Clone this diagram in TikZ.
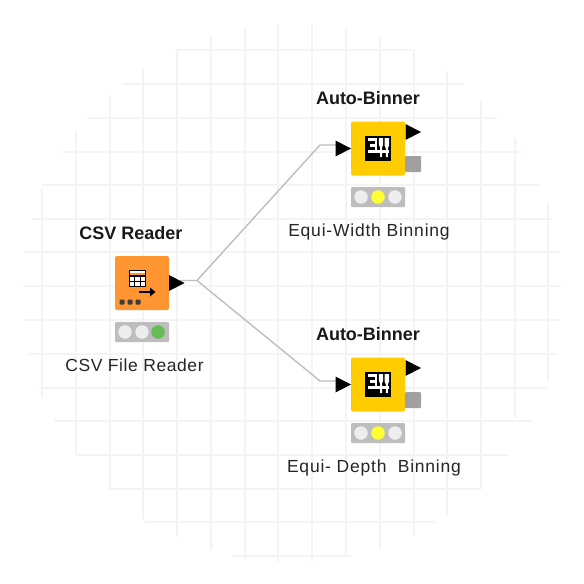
\documentclass[tikz,border=0pt]{standalone}
\usepackage{fontspec}
\setmainfont{Liberation Sans}
\definecolor{gridc}{HTML}{F4F4F4}
\definecolor{wirec}{HTML}{BEBEBE}
\definecolor{csvorange}{HTML}{FF9632}
\definecolor{binyellow}{HTML}{FFCC00}
\definecolor{statusgrey}{HTML}{BDBDBD}
\definecolor{lightoff}{HTML}{EDEDED}
\definecolor{lightgreen}{HTML}{66BB55}
\definecolor{lightyellow}{HTML}{FFFF33}
\definecolor{flowport}{HTML}{A0A0A0}
\definecolor{dotc}{HTML}{3C3C3C}
\tikzset{
  gridline/.style={draw=gridc,line width=1.3pt},
  wire/.style={draw=wirec,line width=1.4pt,line join=round},
  nodebox/.style={rectangle,rounded corners=2pt,minimum width=54pt,minimum height=54pt,inner sep=0pt,outer sep=0pt},
  statusbox/.style={rectangle,rounded corners=1pt,fill=statusgrey,minimum width=54pt,minimum height=20pt,inner sep=0pt,outer sep=0pt},
  lamp/.style={circle,minimum size=13.5pt,inner sep=0pt,outer sep=0pt},
  flowbox/.style={rectangle,rounded corners=1pt,fill=flowport,minimum width=16pt,minimum height=16pt,inner sep=0pt,outer sep=0pt},
  titletext/.style={inner sep=0pt,anchor=base,font=\fontsize{18}{20}\selectfont\bfseries,text=black!90},
  captext/.style={inner sep=0pt,anchor=base,font=\fontsize{17.5}{20}\selectfont,text=black!85},
  porttip/.style={fill=black}
}
\newcommand{\porttri}[1]{\fill[porttip] ($(#1)+(-15.5,-8)$) -- ($(#1)+(0,0)$) -- ($(#1)+(-15.5,8)$) -- cycle;}
\newcommand{\binicon}[2]{%
  \begin{scope}[shift={(#1,#2)}]
    \fill[black] (-13,-13) rectangle (13,12.5);
    \fill[white] (-10.5,-10.5) rectangle (-3,-7.5);
    \fill[white] (-8,-4.5) rectangle (-3,-1.5);
    \fill[white] (-10.5,1.5) rectangle (-3,4.5);
    \fill[white] (-3.5,-10.5) rectangle (-1.2,4.5);
    \fill[white] (0.8,-10.5) -- (5.2,-10.5) -- (5.2,-4) -- (4,-1) -- (4,8.5) -- (2,8.5) -- (2,-1) -- (0.8,-4) -- cycle;
    \fill[white] (-1.2,1.5) rectangle (10.8,4);
    \fill[white] (6.6,-10.5) -- (11,-10.5) -- (11,-3) -- (9.8,0) -- (9.8,8.5) -- (7.8,8.5) -- (7.8,0) -- (6.6,-3) -- cycle;
  \end{scope}}
\usetikzlibrary{calc}
\begin{document}
\begin{tikzpicture}[x=1pt,y=-1pt]
\useasboundingbox (0,0) rectangle (584,584);
\fill[white] (0,0) rectangle (584,584);
% grid: x / top / bottom
\foreach \gx/\gt/\gb in {42/188/398,76/130/455,110/95/490,143/68/519,177/50/537,211/36/550,245/28/559,278/24/562,312/24/562,346/28/555,380/37/549,414/50/535,447/71/515,481/100/489,515/138/418,548/203/382}
  \draw[gridline] (\gx,\gt) -- (\gx,\gb);
% grid: y / left / right
\foreach \gy/\gl/\gr in {50/175/412,84/122/463,118/87/497,152/62/522,185/42/540,219/32/552,252/25/559,286/23/561,320/24/560,354/29/556,388/39/547,421/54/532,455/76/509,489/108/481,522/145/435,556/233/352}
  \draw[gridline] (\gl,\gy) -- (\gr,\gy);

% CSV Reader
\node[nodebox,fill=csvorange] (csv) at (142,283) {};
\node[titletext] (csvtitle) at (131,239) {CSV Reader};
\node[captext] (csvcap) at (134.5,371) {\addfontfeature{LetterSpace=3.3}CSV File Reader};
\node[statusbox] (csvstatus) at (142,332) {};
\node[lamp,fill=lightoff] (csvl1) at (125,332) {};
\node[lamp,fill=lightoff] (csvl2) at (142,332) {};
\node[lamp,fill=lightgreen] (csvl3) at (158,332) {};
\draw[black,line width=1.3pt,fill=white] (129.5,270.5) rectangle (145.5,286.5);
\fill[csvorange] (130.2,272.6) rectangle (144.8,275.2);
\draw[black,line width=1.1pt] (129.5,276) -- (145.5,276) (129.5,281.3) -- (145.5,281.3) (134.8,276) -- (134.8,286.5) (140.2,276) -- (140.2,286.5);
\draw[black,line width=1.8pt] (139,292) -- (152,292);
\fill[black] (150,287.5) -- (155.5,292) -- (150,296.5) -- cycle;
\fill[dotc,rounded corners=.8pt] (119.5,299.5) rectangle +(5,5);
\fill[dotc,rounded corners=.8pt] (127.5,299.5) rectangle +(5,5);
\fill[dotc,rounded corners=.8pt] (135.5,299.5) rectangle +(5,5);

% Top binner
\node[nodebox,fill=binyellow] (bina) at (378,148.5) {};
\node[titletext] (binatitle) at (368,104.5) {Auto-Binner};
\node[captext] (binacap) at (369,236.5) {\addfontfeature{LetterSpace=4.5}Equi-Width Binning};
\node[statusbox] (binastatus) at (378,197) {};
\node[lamp,fill=lightoff] (binal1) at (361,197) {};
\node[lamp,fill=lightyellow] (binal2) at (378,197) {};
\node[lamp,fill=lightoff] (binal3) at (395,197) {};
\node[flowbox] (binaflow) at (413,164) {};
\binicon{378}{148.5}

% Bottom binner
\node[nodebox,fill=binyellow] (binb) at (378,384.5) {};
\node[titletext] (binbtitle) at (368,340.5) {Auto-Binner};
\node[captext] (binbcap) at (374,472.5) {\addfontfeature{LetterSpace=4.5}Equi- Depth\ \ Binning};
\node[statusbox] (binbstatus) at (378,433) {};
\node[lamp,fill=lightoff] (binbl1) at (361,433) {};
\node[lamp,fill=lightyellow] (binbl2) at (378,433) {};
\node[lamp,fill=lightoff] (binbl3) at (395,433) {};
\node[flowbox] (binbflow) at (413,400) {};
\binicon{378}{384.5}

% connectors
\coordinate (csvout) at (184.5,283);
\coordinate (csvwire) at (180,280.5);
\coordinate (fork) at (197,280.5);
\coordinate (bendA) at (320,145);
\coordinate (bendB) at (320,381);
\coordinate (inA) at (351,148.5);
\coordinate (inB) at (351,384.5);
\coordinate (inAw) at (340,145);
\coordinate (inBw) at (340,381);
\coordinate (outA) at (421,132);
\coordinate (outB) at (421,368);
\draw[wire] (csvwire) -- (fork) -- (bendA) -- (inAw);
\draw[wire] (fork) -- (bendB) -- (inBw);
\porttri{csvout}
\porttri{inA}
\porttri{inB}
\porttri{outA}
\porttri{outB}
\end{tikzpicture}
\end{document}
